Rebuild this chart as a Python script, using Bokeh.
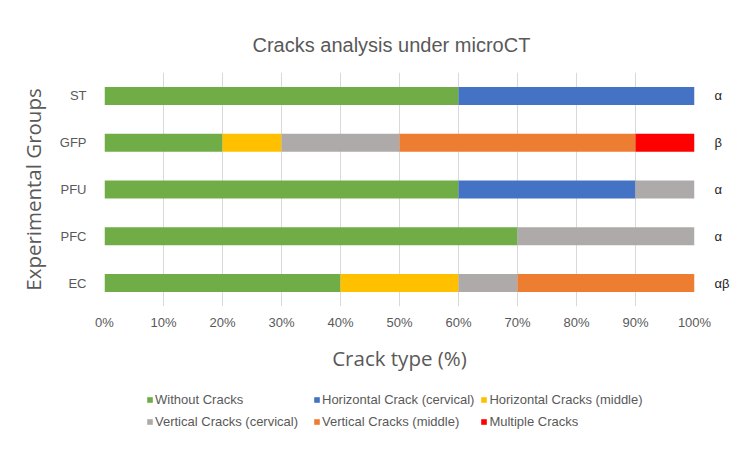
from bokeh.plotting import figure
from bokeh.models import (ColumnDataSource, FactorRange, Legend, LegendItem, CategoricalAxis,
                          CustomJSTickFormatter, FixedTicker, PrintfTickFormatter, Title)
from bokeh.layouts import column
from bokeh.embed import file_html
from bokeh.resources import INLINE

# ---- data ----
groups = ["ST", "GFP", "PFU", "PFC", "EC"]
crack_types = ["Without Cracks", "Horizontal Crack (cervical)", "Horizontal Cracks (middle)",
               "Vertical Cracks (cervical)", "Vertical Cracks (middle)", "Multiple Cracks"]
without_cracks = [60, 20, 60, 70, 40]
horizontal_cervical = [40, 0, 30, 0, 0]
horizontal_middle = [0, 10, 0, 0, 20]
vertical_cervical = [0, 20, 10, 30, 10]
vertical_middle = [0, 40, 0, 0, 30]
multiple_cracks = [0, 10, 0, 0, 0]
significance = ["α", "β", "α", "α", "αβ"]
x_ticks = [0, 10, 20, 30, 40, 50, 60, 70, 80, 90, 100]

colors = ["#70AD47", "#4472C4", "#FFC000", "#AEAAAA", "#ED7D31", "#FF0000"]
keys = ["wc", "hc", "hm", "vc", "vm", "mc"]

source = ColumnDataSource(dict(
    group=groups, wc=without_cracks, hc=horizontal_cervical, hm=horizontal_middle,
    vc=vertical_cervical, vm=vertical_middle, mc=multiple_cracks,
))

TXT = "#595959"
FONT = "Liberation Sans"
TFONT = "Open Sans"

p = figure(width=750, height=380, output_backend="svg", toolbar_location=None,
           y_range=FactorRange(factors=list(reversed(groups)), range_padding=0),
           x_range=(0, 100),
           min_border_left=104, min_border_right=56, min_border_top=72, min_border_bottom=74)
p.outline_line_color = None
p.background_fill_color = "white"
p.border_fill_color = "white"

renderers = p.hbar_stack(keys, y="group", height=0.385, fill_color=colors,
                         line_color=None, source=source)

# title
p.title = Title(text="Cracks analysis under microCT", align="left", offset=148,
                text_font=FONT, text_font_size="20px", text_font_style="normal",
                text_color=TXT, standoff=33)

# axes
xa = p.xaxis[0]
xa.ticker = FixedTicker(ticks=x_ticks)
xa.formatter = PrintfTickFormatter(format="%d%%")
xa.axis_line_color = None
xa.major_tick_line_color = None
xa.minor_tick_line_color = None
xa.major_label_text_font = FONT
xa.major_label_text_font_size = "13px"
xa.major_label_text_color = TXT
xa.major_label_standoff = 2
xa.axis_label = "Crack type (%)"
xa.axis_label_text_font = TFONT
xa.axis_label_text_font_size = "20.5px"
xa.axis_label_text_font_style = "normal"
xa.axis_label_text_color = TXT
xa.axis_label_standoff = 11

ya = p.yaxis[0]
ya.axis_line_color = None
ya.major_tick_line_color = None
ya.minor_tick_line_color = None
ya.major_label_text_font = FONT
ya.major_label_text_font_size = "13px"
ya.major_label_text_color = TXT
ya.major_label_standoff = 12
ya.axis_label = "Experimental Groups"
ya.axis_label_text_font = TFONT
ya.axis_label_text_font_size = "20.5px"
ya.axis_label_text_font_style = "normal"
ya.axis_label_text_color = TXT
ya.axis_label_standoff = 10

# significance letters on a right-hand categorical axis
sig_map = dict(zip(groups, significance))
ra = CategoricalAxis(formatter=CustomJSTickFormatter(args=dict(m=sig_map), code="return m[tick];"))
ra.axis_line_color = None
ra.major_tick_line_color = None
ra.minor_tick_line_color = None
ra.major_label_text_font = FONT
ra.major_label_text_font_size = "13px"
ra.major_label_text_color = "#262626"
ra.major_label_standoff = 14
p.add_layout(ra, "right")

p.ygrid.grid_line_color = None
p.xgrid.grid_line_color = "#D9D9D9"
p.xgrid.grid_line_width = 1
p.xgrid.ticker = FixedTicker(ticks=x_ticks)

# ---- legend strip (second figure; its bars fall outside its range, only swatches show) ----
p2 = figure(width=750, height=73, output_backend="svg", toolbar_location=None,
            x_range=(0, 100), y_range=FactorRange(factors=["legend"]),
            min_border_left=104, min_border_right=56, min_border_top=0, min_border_bottom=0)
p2.axis.visible = False
p2.grid.visible = False
p2.outline_line_color = None
p2.background_fill_color = "white"
p2.border_fill_color = "white"

swatches = p2.hbar_stack(keys, y="group", height=0.385, fill_color=colors,
                         line_color=None, source=source)

legend = Legend(items=[LegendItem(label=nm, renderers=[r]) for nm, r in zip(crack_types, swatches)],
                location=(42, 24), orientation="horizontal", ncols=3,
                padding=0, margin=0, spacing=6,
                glyph_width=7, glyph_height=7, label_standoff=2, label_height=16, label_width=152,
                label_text_font=FONT, label_text_font_size="13px", label_text_color=TXT,
                border_line_color=None, background_fill_alpha=0)
p2.add_layout(legend, "center")

open("out.html", "w").write(file_html(column(p, p2), INLINE))
